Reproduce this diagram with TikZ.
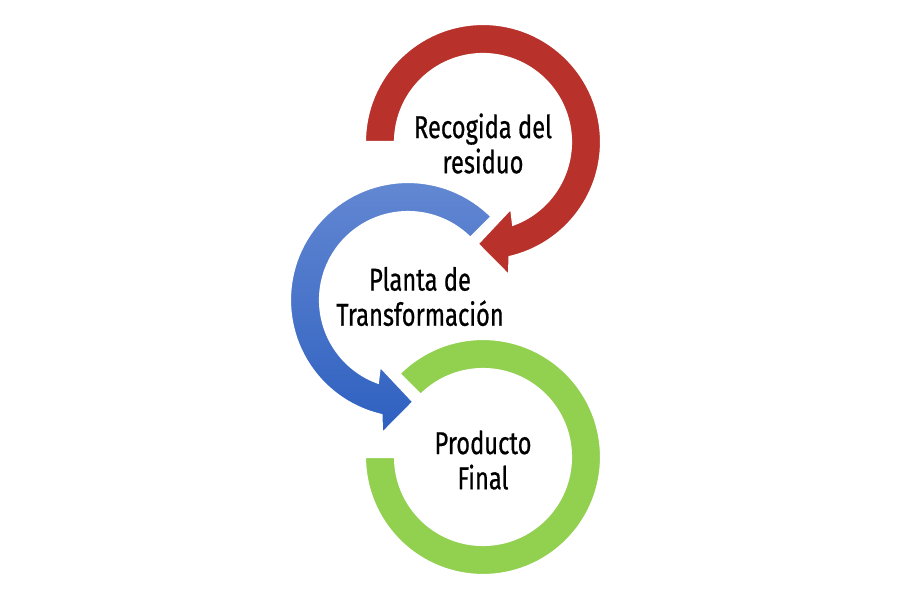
\documentclass[tikz,border=0pt]{standalone}
\usepackage{fontspec}
\newfontfamily\cyclefont{Fira Sans}[FakeStretch=0.75, FakeBold=0.6]
\usepackage{tikz}
\definecolor{arrowred}{RGB}{184,50,43}
\definecolor{bluetop}{RGB}{101,137,211}
\definecolor{bluebottom}{RGB}{46,96,192}
\definecolor{ringgreen}{RGB}{146,208,80}
\def\Rout{2.36}
\def\Rin{1.76}
\def\Rmid{2.04}
\def\Rbin{1.44}
\def\Rbout{2.72}

\begin{document}
\begin{tikzpicture}[
    ring/.style={draw=white, line width=1.2pt, line join=miter},
    steplabel/.style={align=center, font=\cyclefont\fontsize{18pt}{20pt}\selectfont}
  ]
      \useasboundingbox (0,0) rectangle (18,12);
      \coordinate (Cr) at (9.66,9.16);
      \coordinate (Cb) at (8.16,6.00);
      \coordinate (Cg) at (9.66,2.86);

      % green ring, no arrow head
      \begin{scope}[shift={(Cg)}]
        \fill [ring, fill=ringgreen] (135:\Rout)
          arc [start angle=135, end angle=-180, radius=\Rout]
          -- (-180:\Rin)
          arc [start angle=-180, end angle=135, radius=\Rin] -- cycle;
      \end{scope}

      % blue arrow, counter clockwise
      \begin{scope}[shift={(Cb)}]
        \shade [ring, top color=bluetop, bottom color=bluebottom] (45:\Rout)
          arc [start angle=45, end angle=257, radius=\Rout]
          -- (259:\Rbout) -- (273:\Rmid) -- (247:\Rbin) -- (250:\Rin)
          arc [start angle=250, end angle=45, radius=\Rin] -- cycle;
      \end{scope}

      % red arrow, clockwise
      \begin{scope}[shift={(Cr)}]
        \fill [ring, fill=arrowred] (180:\Rout)
          arc [start angle=180, end angle=-77, radius=\Rout]
          -- (-79:\Rbout) -- (-93:\Rmid) -- (-67:\Rbin) -- (-70:\Rin)
          arc [start angle=-70, end angle=180, radius=\Rin] -- cycle;
      \end{scope}

      \node [steplabel] (recogida) at (9.66,9.13) {Recogida del\\residuo};
      \node [steplabel] (planta) at (8.40,6.07) {Planta de\\Transformación};
      \node [steplabel] (producto) at (9.66,2.80) {Producto\\Final};
    \end{tikzpicture}
\end{document}
